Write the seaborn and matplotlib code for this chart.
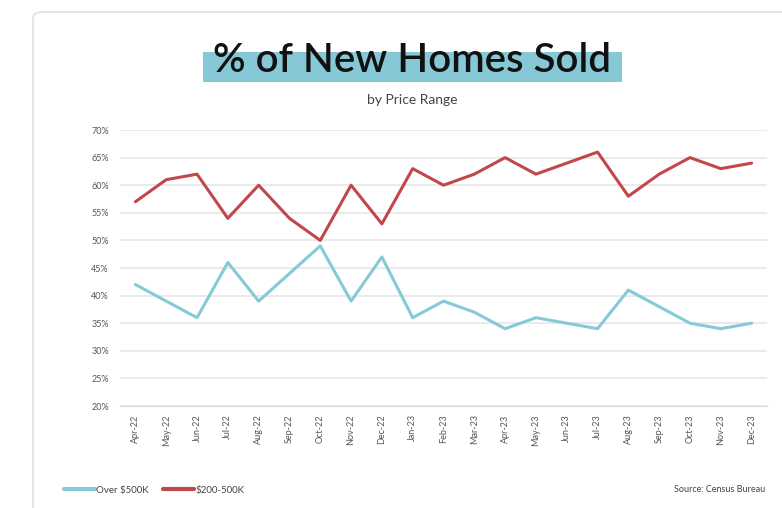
import pandas as pd
import seaborn as sns
import matplotlib.pyplot as plt
from matplotlib.patches import FancyBboxPatch, Rectangle
from matplotlib.ticker import FixedLocator, FuncFormatter

months = ["Apr-22", "May-22", "Jun-22", "Jul-22", "Aug-22", "Sep-22", "Oct-22",
          "Nov-22", "Dec-22", "Jan-23", "Feb-23", "Mar-23", "Apr-23", "May-23",
          "Jun-23", "Jul-23", "Aug-23", "Sep-23", "Oct-23", "Nov-23", "Dec-23"]
over_500k = [42, 39, 36, 46, 39, 44, 49, 39, 47, 36, 39, 37, 34, 36, 35, 34, 41, 38, 35, 34, 35]
mid_200_500k = [57, 61, 62, 54, 60, 54, 50, 60, 53, 63, 60, 62, 65, 62, 64, 66, 58, 62, 65, 63, 64]
series_names = ["Over $500K", "$200-500K"]
y_ticks = [20, 25, 30, 35, 40, 45, 50, 55, 60, 65, 70]

df = pd.DataFrame({"month": months * 2,
                   "idx": list(range(len(months))) * 2,
                   "share": over_500k + mid_200_500k,
                   "range": [series_names[0]] * len(months) + [series_names[1]] * len(months)})

sns.set_style("white")
plt.rcParams['font.family'] = ['Lato', 'DejaVu Sans']

fig = plt.figure(figsize=(7.82, 5.08), dpi=100)

# card outline
card = FancyBboxPatch((33 / 782, -0.2), 1.0, 1.2 - 12 / 508,
                      boxstyle="round,pad=0,rounding_size=0.012",
                      transform=fig.transFigure, facecolor="white",
                      edgecolor="#e2e2e2", lw=1.2, zorder=-5)
fig.patches.append(card)

# title highlight
fig.patches.append(Rectangle((203 / 782, 1 - 82 / 508), 419 / 782, 30 / 508,
                             transform=fig.transFigure, facecolor="#86c8d6",
                             edgecolor="none", zorder=-4))
fig.text(412 / 782, 1 - 60 / 508, "% of New Homes Sold", ha="center", va="center",
         fontsize=29, fontweight="semibold", color="#111111", zorder=2)
fig.text(412 / 782, 1 - 100 / 508, "by Price Range", ha="center", va="center",
         fontsize=10, color="#444444")

ax = fig.add_axes([120 / 782, 1 - 406 / 508, 647 / 782, 276 / 508])
ax.set_facecolor("none")
sns.lineplot(data=df, x="idx", y="share", hue="range",
             palette={series_names[0]: "#86c9d8", series_names[1]: "#c2474b"},
             linewidth=2.2, ax=ax, legend=False)

ax.set_xlim(-0.5, len(months) - 0.5)
ax.set_ylim(20, 70)
ax.set_yticks(y_ticks)
ax.yaxis.set_major_formatter(FuncFormatter(lambda v, p: f"{int(v)}%"))
ax.set_xticks(range(len(months)))
ax.set_xticklabels(months, rotation=90)
ax.xaxis.set_minor_locator(FixedLocator([i + 0.5 for i in range(-1, len(months))]))
ax.tick_params(axis="x", which="major", length=0, labelsize=6.5, colors="#555555", pad=6)
ax.tick_params(axis="x", which="minor", length=4, color="#d9d9d9", width=1)
ax.tick_params(axis="y", length=0, labelsize=6.5, colors="#555555", pad=8)
ax.grid(axis="y", color="#e6e6e6", lw=1.2)
ax.set_axisbelow(True)
sns.despine(ax=ax, left=True)
ax.spines["bottom"].set_color("#d9d9d9")
ax.set_xlabel("")
ax.set_ylabel("")

# legend at the bottom
handles = [plt.Line2D([], [], color="#86c9d8", lw=3),
           plt.Line2D([], [], color="#c2474b", lw=3)]
fig.legend(handles, series_names, loc="center left", bbox_to_anchor=(55 / 782, 1 - 490 / 508),
           ncol=2, frameon=False, fontsize=7, handlelength=3.2, handletextpad=0.1,
           columnspacing=1.5, labelcolor="#444444")
fig.text(765 / 782, 1 - 490 / 508, "Source: Census Bureau", ha="right", va="center",
         fontsize=6.5, color="#444444")

fig.savefig("out.png", dpi=100)
